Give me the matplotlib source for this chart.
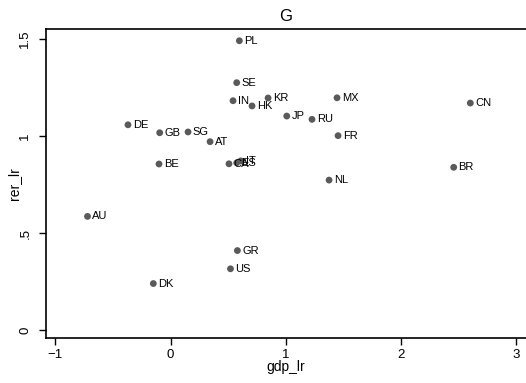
import matplotlib
matplotlib.use("Agg")
import matplotlib.pyplot as plt

plt.rcParams['font.family'] = ['Liberation Sans', 'DejaVu Sans']

countries = ["PL", "SE", "IN", "HK", "KR", "MX", "CN", "JP", "RU", "FR", "DE", "GB", "SG",
             "AT", "CA", "IT", "ES", "BE", "NL", "BR", "AU", "GR", "US", "DK"]
gdp_lr = [0.597, 0.574, 0.542, 0.707, 0.846, 1.444, 2.60, 1.008, 1.227, 1.453, -0.369, -0.094, 0.152,
          0.343, 0.507, 0.609, 0.574, -0.10, 1.375, 2.456, -0.72, 0.58, 0.52, -0.149]
rer_lr = [1.491, 1.275, 1.182, 1.155, 1.196, 1.197, 1.17, 1.103, 1.086, 1.002, 1.058, 1.017, 1.021,
          0.971, 0.857, 0.872, 0.862, 0.856, 0.773, 0.839, 0.586, 0.41, 0.316, 0.24]

xticks = [-1, 0, 1, 2, 3]
xticklabels = ["\u22121", "0", "1", "2", "3"]
yticks = [0, 0.5, 1, 1.5]
yticklabels = ["0", ".5", "1", "1.5"]

fig = plt.figure(figsize=(5.26, 3.83), dpi=100)
ax = fig.add_axes([46/526, 1-337.5/383, 1-46/526, (337.5-29.3)/383])

ax.scatter(gdp_lr, rer_lr, s=24, color='#5a5a5a', edgecolors='none', zorder=3)
for c, x, y in zip(countries, gdp_lr, rer_lr):
    ax.annotate(c, (x, y), xytext=(3.5, 0), textcoords='offset points',
                ha='left', va='center', fontsize=8, color='black')

ax.set_xlim(-1.08, 3.083)
ax.set_ylim(-0.038, 1.55)
ax.set_xticks(xticks)
ax.set_xticklabels(xticklabels, fontsize=9.5)
ax.set_yticks(yticks)
ax.set_yticklabels(yticklabels, fontsize=9.5, rotation=90, va='center')
ax.tick_params(direction='out', length=5, width=1)
ax.tick_params(axis='x', pad=3)
ax.tick_params(axis='y', pad=5.5)
ax.spines['right'].set_visible(False)
for s in ['left', 'bottom', 'top']:
    ax.spines[s].set_linewidth(1.2)
ax.set_xlabel('gdp_lr', fontsize=10, va='center')
ax.xaxis.set_label_coords(0.5, -0.097)
ax.set_ylabel('rer_lr', fontsize=10, va='center')
ax.yaxis.set_label_coords(-0.0667, 0.5)
ax.set_title('G', fontsize=12, pad=6)

fig.savefig('out.png', dpi=100)
